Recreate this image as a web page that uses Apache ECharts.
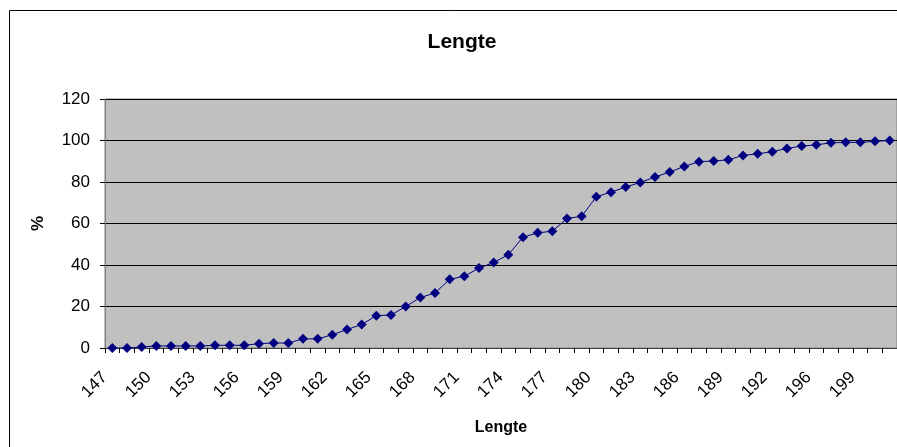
<!DOCTYPE html>
<html>
<head>
<meta charset="utf-8">
<script src="https://cdn.jsdelivr.net/npm/echarts@6/dist/echarts.min.js"></script>
<style>html,body{margin:0;padding:0;background:#fff;}#c{width:897px;height:447px;}</style>
</head>
<body>
<div id="c"></div>
<script>
const categories = ['147','148','149','150','151','152','153','154','155','156','157','158','159','160','161','162','163','164','165','166','167','168','169','170','171','172','173','174','175','176','177','178','179','180','181','182','183','184','185','186','187','188','189','190','191','192','193','194','196','197','198','199','200','201'];
const percent = [0,0,0.5,1.0,1.0,1.0,1.0,1.3,1.3,1.3,2.1,2.4,2.4,4.4,4.4,6.4,8.9,11.3,15.6,15.9,20.0,24.3,26.5,33.1,34.6,38.5,41.2,45.0,53.4,55.5,56.3,62.4,63.5,72.9,75.1,77.6,79.8,82.4,84.8,87.5,89.8,90.1,90.7,92.8,93.6,94.6,96.2,97.3,97.9,98.9,99.1,99.1,99.6,100];
const yTicks = {min: 0, max: 120, interval: 20};
const titleText = 'Lengte';
const xName = 'Lengte';
const yName = '%';

const chart = echarts.init(document.getElementById('c'), null, {renderer: 'canvas'});
const font = 'Arial, "Liberation Sans", sans-serif';
chart.setOption({
  animation: false,
  backgroundColor: '#ffffff',
  graphic: [{
    type: 'rect', shape: {x: 9.5, y: 10.5, width: 1000, height: 1000},
    style: {fill: 'none', stroke: '#000', lineWidth: 1}, silent: true, z: -10
  }],
  title: {
    text: titleText, left: 457, top: 27, textAlign: 'center',
    textStyle: {fontFamily: font, fontWeight: 'bold', fontSize: 21, color: '#000'}
  },
  grid: {
    left: 105, right: 0, top: 99, bottom: 99,
    show: true, backgroundColor: '#C0C0C0', borderColor: '#808080', borderWidth: 1
  },
  xAxis: {
    type: 'category', data: categories, boundaryGap: true,
    name: xName, nameLocation: 'middle', nameGap: 72,
    nameTextStyle: {fontFamily: font, fontWeight: 'bold', fontSize: 16, color: '#000'},
    axisLine: {lineStyle: {color: '#404040', width: 1}},
    axisTick: {show: true, interval: 0, length: 5, lineStyle: {color: '#000'}},
    axisLabel: {interval: 2, rotate: 45, fontFamily: font, fontSize: 17, color: '#000', margin: 19, padding: [0, 11, 0, 0]},
    splitLine: {show: false}
  },
  yAxis: {
    type: 'value', min: yTicks.min, max: yTicks.max, interval: yTicks.interval,
    name: yName, nameLocation: 'middle', nameGap: 58, nameRotate: 90,
    nameTextStyle: {fontFamily: font, fontWeight: 'bold', fontSize: 17, color: '#000'},
    axisLine: {show: true, lineStyle: {color: '#808080', width: 1}},
    axisTick: {show: true, length: 5, lineStyle: {color: '#000'}},
    axisLabel: {fontFamily: font, fontSize: 17, color: '#000', margin: 15},
    splitLine: {show: true, lineStyle: {color: '#000', width: 1}}
  },
  series: [{
    type: 'line', data: percent,
    symbol: 'diamond', symbolSize: 10, showAllSymbol: true,
    lineStyle: {color: '#000080', width: 1},
    itemStyle: {color: '#000080'}
  }]
});
</script>
</body>
</html>
